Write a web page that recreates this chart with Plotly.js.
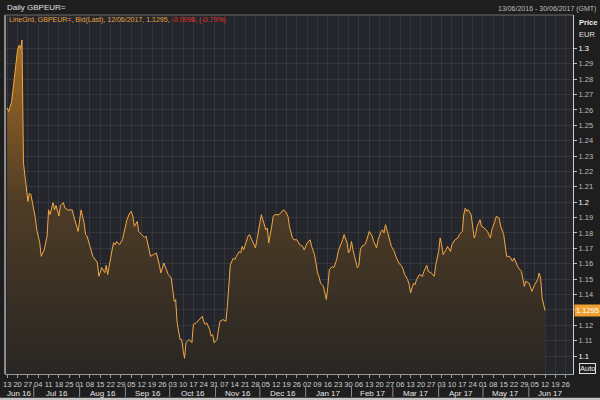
<!DOCTYPE html>
<html>
<head>
<meta charset="utf-8">
<script src="https://cdn.plot.ly/plotly-3.0.1.min.js"></script>
<style>html,body{margin:0;padding:0;background:#1e1e1e;}#chart{width:600px;height:400px;}</style>
</head>
<body>
<div id="chart"></div>
<script>
// ---- data ----
const dates = [
'2016-06-13','2016-06-14','2016-06-16','2016-06-17','2016-06-20','2016-06-21','2016-06-22','2016-06-23','2016-06-24','2016-06-27',
'2016-06-28','2016-06-29','2016-06-30','2016-07-01','2016-07-02','2016-07-03','2016-07-05','2016-07-06','2016-07-08','2016-07-10',
'2016-07-11','2016-07-12','2016-07-14','2016-07-15','2016-07-16','2016-07-18','2016-07-19','2016-07-21','2016-07-22','2016-07-24',
'2016-07-27','2016-07-28','2016-07-30','2016-07-31','2016-08-02','2016-08-04','2016-08-05','2016-08-06','2016-08-08','2016-08-10',
'2016-08-13','2016-08-14','2016-08-16','2016-08-18','2016-08-19','2016-08-20','2016-08-23','2016-08-24','2016-08-25','2016-08-26',
'2016-08-28','2016-08-30','2016-08-31','2016-09-02','2016-09-04','2016-09-05','2016-09-06','2016-09-07','2016-09-09','2016-09-10',
'2016-09-12','2016-09-14','2016-09-15','2016-09-17','2016-09-18','2016-09-20','2016-09-22','2016-09-24','2016-09-25','2016-09-27',
'2016-09-28','2016-09-30','2016-10-02','2016-10-03','2016-10-04','2016-10-05','2016-10-06','2016-10-08','2016-10-09','2016-10-10',
'2016-10-11','2016-10-12','2016-10-13','2016-10-14','2016-10-16','2016-10-17','2016-10-19','2016-10-21','2016-10-23','2016-10-24',
'2016-10-25','2016-10-26','2016-10-28','2016-10-29','2016-10-30','2016-10-31','2016-11-02','2016-11-03','2016-11-04','2016-11-06',
'2016-11-08','2016-11-09','2016-11-10','2016-11-11','2016-11-13','2016-11-14','2016-11-15','2016-11-17','2016-11-18','2016-11-19',
'2016-11-20','2016-11-22','2016-11-23','2016-11-24','2016-11-25','2016-11-26','2016-11-28','2016-11-29','2016-12-01','2016-12-02',
'2016-12-03','2016-12-05','2016-12-06','2016-12-07','2016-12-09','2016-12-10','2016-12-11','2016-12-14','2016-12-15','2016-12-17',
'2016-12-19','2016-12-20','2016-12-21','2016-12-23','2016-12-24','2016-12-26','2016-12-28','2016-12-30','2016-12-31','2017-01-02',
'2017-01-04','2017-01-05','2017-01-07','2017-01-09','2017-01-10','2017-01-11','2017-01-13','2017-01-14','2017-01-15','2017-01-16',
'2017-01-17','2017-01-19','2017-01-20','2017-01-22','2017-01-23','2017-01-26','2017-01-27','2017-01-29','2017-01-30','2017-01-31',
'2017-02-01','2017-02-02','2017-02-04','2017-02-05','2017-02-06','2017-02-07','2017-02-08','2017-02-10','2017-02-11','2017-02-13',
'2017-02-15','2017-02-16','2017-02-18','2017-02-19','2017-02-21','2017-02-22','2017-02-23','2017-02-24','2017-02-25','2017-02-27',
'2017-02-28','2017-03-02','2017-03-03','2017-03-05','2017-03-07','2017-03-08','2017-03-09','2017-03-11','2017-03-12','2017-03-13',
'2017-03-14','2017-03-15','2017-03-16','2017-03-17','2017-03-19','2017-03-21','2017-03-22','2017-03-24','2017-03-25','2017-03-27',
'2017-03-29','2017-03-30','2017-04-01','2017-04-02','2017-04-03','2017-04-04','2017-04-06','2017-04-07','2017-04-09','2017-04-10',
'2017-04-12','2017-04-14','2017-04-15','2017-04-17','2017-04-18','2017-04-19','2017-04-20','2017-04-21','2017-04-23','2017-04-24',
'2017-04-25','2017-04-26','2017-04-27','2017-04-29','2017-04-30','2017-05-02','2017-05-04','2017-05-06','2017-05-07','2017-05-09',
'2017-05-10','2017-05-12','2017-05-13','2017-05-15','2017-05-16','2017-05-17','2017-05-19','2017-05-21','2017-05-22','2017-05-24',
'2017-05-25','2017-05-27','2017-05-28','2017-05-29','2017-05-30','2017-06-01','2017-06-02','2017-06-03','2017-06-05','2017-06-07',
'2017-06-08','2017-06-09','2017-06-10','2017-06-11','2017-06-12'
];
const bids = [
1.2614,1.2590,1.2655,1.2730,1.2990,1.3020,1.3000,1.3055,1.2256,1.2005,
1.2060,1.2050,1.2000,1.1970,1.1900,1.1820,1.1737,1.1648,1.1690,1.1780,
1.1950,1.1920,1.1997,1.1950,1.1980,1.1910,1.1980,1.1997,1.1964,1.1950,
1.1950,1.1910,1.1843,1.1810,1.1950,1.1867,1.1790,1.1780,1.1713,1.1648,
1.1607,1.1518,1.1575,1.1542,1.1590,1.1530,1.1690,1.1737,1.1724,1.1745,
1.1724,1.1756,1.1800,1.1886,1.1932,1.1940,1.1910,1.1843,1.1875,1.1810,
1.1790,1.1770,1.1780,1.1690,1.1648,1.1660,1.1670,1.1590,1.1540,1.1605,
1.1583,1.1530,1.1508,1.1410,1.1356,1.1367,1.1216,1.1107,1.1107,1.1042,
1.0985,1.1086,1.1096,1.1107,1.1086,1.1205,1.1216,1.1237,1.1258,1.1226,
1.1205,1.1216,1.1172,1.1129,1.1140,1.1086,1.1107,1.1172,1.1226,1.1237,
1.1226,1.1323,1.1486,1.1594,1.1637,1.1627,1.1648,1.1680,1.1670,1.1713,
1.1690,1.1756,1.1780,1.1790,1.1768,1.1756,1.1703,1.1756,1.1854,1.1919,
1.1886,1.1821,1.1832,1.1735,1.1843,1.1908,1.1919,1.1919,1.1930,1.1951,
1.1930,1.1908,1.1843,1.1768,1.1756,1.1756,1.1724,1.1713,1.1690,1.1735,
1.1756,1.1713,1.1659,1.1540,1.1518,1.1475,1.1453,1.1410,1.1367,1.1453,
1.1562,1.1583,1.1573,1.1627,1.1680,1.1756,1.1790,1.1735,1.1670,1.1690,
1.1745,1.1690,1.1605,1.1573,1.1590,1.1690,1.1713,1.1724,1.1745,1.1810,
1.1780,1.1745,1.1703,1.1756,1.1810,1.1821,1.1800,1.1854,1.1821,1.1756,
1.1713,1.1680,1.1648,1.1605,1.1583,1.1562,1.1530,1.1497,1.1464,1.1410,
1.1453,1.1475,1.1464,1.1497,1.1530,1.1518,1.1550,1.1590,1.1550,1.1540,
1.1518,1.1590,1.1680,1.1768,1.1724,1.1659,1.1690,1.1713,1.1680,1.1724,
1.1756,1.1768,1.1790,1.1810,1.1919,1.1962,1.1940,1.1951,1.1919,1.1821,
1.1768,1.1790,1.1843,1.1886,1.1843,1.1832,1.1810,1.1768,1.1821,1.1875,
1.1908,1.1897,1.1843,1.1790,1.1713,1.1648,1.1648,1.1616,1.1637,1.1590,
1.1573,1.1550,1.1508,1.1453,1.1486,1.1475,1.1453,1.1420,1.1464,1.1497,
1.1540,1.1508,1.1378,1.1334,1.1295
];
const yTicks = [1.10,1.11,1.12,1.13,1.14,1.15,1.16,1.17,1.18,1.19,1.20,1.21,1.22,1.23,1.24,1.25,1.26,1.27,1.28,1.29,1.30];
const xRange = ['2016-06-11 12:00', '2017-06-30 22:00'];
const yRange = [1.0883, 1.32175];
const titleText = 'Daily GBPEUR=';
const legendMain = 'LineGrd, GBPEUR=, Bid(Last), 12/06/2017, 1.1295, ';
const legendChange = '-0.0098, (-0.79%)';
const periodText = '13/06/2016 - 30/06/2017 (GMT)';
const monthNames = ['Jan','Feb','Mar','Apr','May','Jun','Jul','Aug','Sep','Oct','Nov','Dec'];

// ---- build ----
const FONT = 'Liberation Sans Narrow, Liberation Sans, Arial, sans-serif';
const lastVal = bids[bids.length-1];

// tick label hidden where the last-price marker sits on the axis
const yTickText = yTicks.map(v => {
  if (Math.abs(v - lastVal) < 0.006) return '';
  const r = Math.round(v*100);
  const s = (r % 10 === 0) ? String(+(r/100).toFixed(1)) : v.toFixed(2);
  return (r % 10 === 0) ? '<span style="color:#ffffff">' + s + '</span>' : s;
});

const rs = new Date(xRange[0].replace(' ', 'T') + 'Z').getTime();
const re = new Date(xRange[1].replace(' ', 'T') + 'Z').getTime();
const annotations = [];
const shapes = [];
function iso(ms){ return new Date(ms).toISOString().slice(0,19).replace('T',' '); }
let yy = 2016, mm = 5;
while (true) {
  const ms = Date.UTC(yy, mm, 1);
  const me = Date.UTC(mm === 11 ? yy+1 : yy, (mm+1)%12, 1);
  if (ms > re) break;
  const a = Math.max(ms, rs), b = Math.min(me, re);
  annotations.push({xref:'x', yref:'paper', x: iso((a+b)/2), y: -0.053, yanchor:'middle', xanchor:'center',
    text: monthNames[mm] + ' ' + String(yy).slice(2), showarrow:false, font:{family:FONT, size:8, color:'#e6e6e6'}});
  if (ms > rs) {
    shapes.push({type:'line', xref:'x', yref:'paper', x0: iso(ms), x1: iso(ms), y0: -0.033, y1: -0.064,
      line:{color:'#8a8a8a', width:1}});
  }
  mm++; if (mm === 12) { mm = 0; yy++; }
}

shapes.push({type:'rect', xref:'paper', yref:'paper', x0:-0.02, x1:1.06, y0:-0.066, y1:-0.09, fillcolor:'#c4c4c4', line:{width:0}, layer:'below'});
shapes.push({type:'line', xref:'paper', yref:'paper', x0:0, x1:0, y0:0, y1:1, line:{color:'#8c8c8c', width:2}});
shapes.push({type:'line', xref:'paper', yref:'paper', x0:0, x1:1, y0:1, y1:1, line:{color:'#6a6a6a', width:1}});

annotations.push({xref:'paper', yref:'paper', x:0, y:1.02, xanchor:'left', yanchor:'middle', showarrow:false,
  text: titleText, font:{family:FONT, size:8, color:'#e0e0e0'}});
annotations.push({xref:'paper', yref:'paper', x:0.004, y:0.986, xanchor:'left', yanchor:'middle', showarrow:false,
  text: legendMain + '<span style="color:#e8322c">' + legendChange + '</span>', font:{family:FONT, size:7, color:'#e8a040'}});
annotations.push({xref:'paper', yref:'paper', x:1.044, y:1.016, xanchor:'right', yanchor:'middle', showarrow:false,
  text: periodText, font:{family:FONT, size:7, color:'#bdbdbd'}});
annotations.push({xref:'paper', yref:'paper', x:1, xshift:4, y:0.978, xanchor:'left', yanchor:'middle', showarrow:false,
  text: '<b>Price</b>', font:{family:FONT, size:7.5, color:'#f0f0f0'}});
annotations.push({xref:'paper', yref:'paper', x:1, xshift:4, y:0.947, xanchor:'left', yanchor:'middle', showarrow:false,
  text: 'EUR', font:{family:FONT, size:7.5, color:'#e0e0e0'}});
annotations.push({xref:'paper', yref:'y', x:1, xshift:1, y:lastVal, xanchor:'left', yanchor:'middle', showarrow:false,
  text: lastVal.toFixed(4), bgcolor:'#f0a030', borderpad:1, font:{family:FONT, size:7.5, color:'#ffffff'}});
annotations.push({xref:'paper', yref:'paper', x:1, xshift:6, y:0.015, xanchor:'left', yanchor:'middle', showarrow:false,
  text: 'Auto', bordercolor:'#e0e0e0', borderwidth:1, borderpad:0, font:{family:FONT, size:7.5, color:'#f0f0f0'}});

const trace = {
  x: dates, y: bids, type:'scatter', mode:'lines',
  line:{color:'#f3a745', width:1},
  fill:'tozeroy',
  fillgradient:{type:'vertical', start: yRange[0], stop: 1.31,
    colorscale:[[0,'rgba(40,38,36,1)'],[0.5,'rgba(78,60,38,1)'],[1,'rgba(170,112,36,1)']]},
  hoverinfo:'skip'
};

const layout = {
  width:600, height:400,
  margin:{l:5, r:27, t:15, b:26},
  paper_bgcolor:'#1e1e1e', plot_bgcolor:'#24262b',
  showlegend:false,
  font:{family:FONT, color:'#c8c8c8'},
  xaxis:{type:'date', range:xRange, tick0:'2016-06-13', dtick:604800000, tickformat:'%d', tickangle:0,
    ticks:'outside', ticklen:3, tickcolor:'#9a9a9a', tickfont:{family:FONT, size:7.5, color:'#cfcfcf'},
    showgrid:true, gridcolor:'rgba(255,255,255,0.07)', gridwidth:1,
    showline:true, linecolor:'#9a9a9a', linewidth:1, zeroline:false, fixedrange:true},
  yaxis:{range:yRange, side:'right', tickvals:yTicks, ticktext:yTickText,
    ticks:'outside', ticklen:3, tickcolor:'#bdbdbd', tickfont:{family:FONT, size:7.5, color:'#bdbdbd'},
    showgrid:true, gridcolor:'rgba(255,255,255,0.07)', gridwidth:1,
    showline:true, linecolor:'#d0d0d0', linewidth:1, zeroline:false, fixedrange:true},
  annotations: annotations,
  shapes: shapes
};

Plotly.newPlot('chart', [trace], layout, {staticPlot:true, displayModeBar:false});
</script>
</body>
</html>
